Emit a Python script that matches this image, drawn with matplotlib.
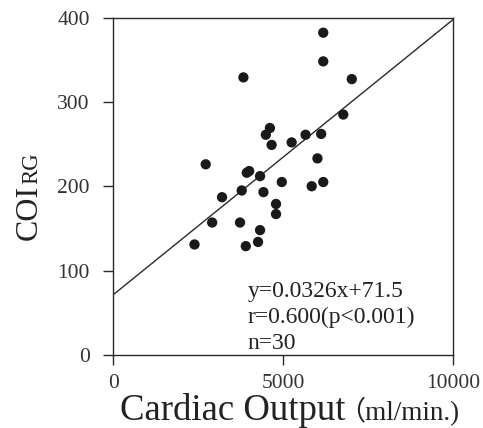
import numpy as np
import matplotlib.pyplot as plt

plt.rcParams['font.family'] = ['Liberation Serif', 'DejaVu Serif']

# Donnees
cardiac_output = [6180, 6180, 3830, 7020, 6770, 4610, 4490, 4660, 5250, 5660,
                  6120, 6010, 2720, 4000, 3930, 4320, 4960, 5840, 6180, 3780,
                  4420, 3200, 4790, 4790, 2910, 3730, 4320, 2390, 3900, 4260]
coi_rg = [382, 348, 329, 327, 285, 269, 261, 249, 252, 261,
          262, 233, 226, 218, 216, 212, 205, 200, 205, 195,
          193, 187, 179, 167, 157, 157, 148, 131, 129, 134]
slope = 0.0326
intercept = 71.5
x_ticks = [0, 5000, 10000]
y_ticks = [0, 100, 200, 300, 400]

ink = '#2a2a2a'
fig = plt.figure(figsize=(4.83, 4.28), dpi=100)
ax = fig.add_axes([0.2346, 0.1706, 0.7033, 0.7885])

ax.scatter(cardiac_output, coi_rg, s=55, color='#1a1a1a', edgecolors='none', zorder=3)

xl = np.array([0, 10000])
ax.plot(xl, slope * xl + intercept, color=ink, lw=1.0)

ax.set_xlim(0, 10000)
ax.set_ylim(0, 400)
ax.set_xticks(x_ticks)
ax.set_yticks(y_ticks)
ax.tick_params(direction='out', length=7, width=1, color=ink, labelsize=15.5,
               labelcolor='#333333')
ax.tick_params(axis='y', pad=10)
ax.tick_params(axis='x', pad=7)
for s in ax.spines.values():
    s.set_color(ink)
    s.set_linewidth(1.0)

# ylabel: COI + RG en petites capitales sur la meme ligne de base
y1 = fig.text(0.0766, 0.439, 'COI', fontsize=23, color='#222222', rotation=90,
              rotation_mode='anchor', ha='left', va='baseline')
# xlabel en deux morceaux (taille differente pour l'unite)
t1 = fig.text(0.248, 0.019, 'Cardiac Output', fontsize=26.5, color='#222222',
              ha='left', va='baseline')
fig.canvas.draw()
bb_y = y1.get_window_extent()
fig.text(0.0766, (bb_y.y1 + 1) / fig.bbox.height, 'RG', fontsize=16.5, color='#222222',
         rotation=90, rotation_mode='anchor', ha='left', va='baseline')
bb = t1.get_window_extent()
x2 = (bb.x1 - 7) / fig.bbox.width
fig.text(x2, 0.019, '\uff08ml/min.)', fontsize=19.5, color='#222222',
         ha='left', va='baseline', family=['Liberation Serif', 'Noto Sans CJK JP'])

ax.text(3950, 88, 'y=0.0326x+71.5\nr=0.600(p<0.001)\nn=30', fontsize=17,
        color='#222222', ha='left', va='top', linespacing=1.3)

plt.savefig('out.png', dpi=100)
